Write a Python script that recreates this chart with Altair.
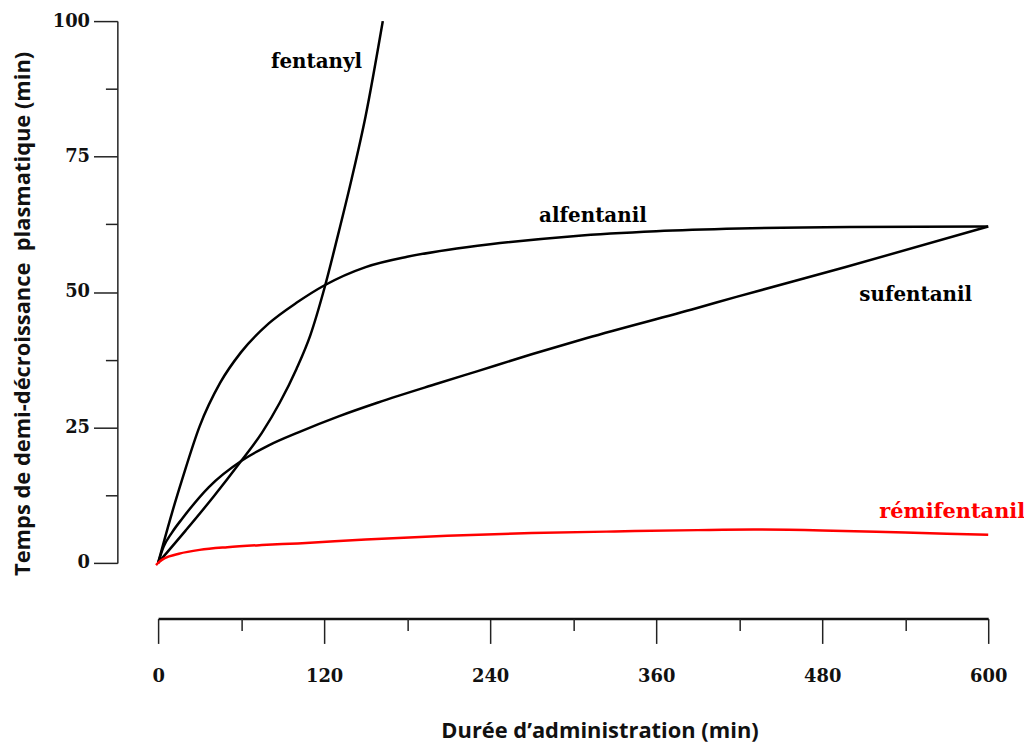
import altair as alt
import pandas as pd

# ---- data ----
fentanyl_x = [0, 20, 40, 60, 75, 88, 100, 110, 120, 130, 140, 150, 162.4]
fentanyl_y = [0, 6.0, 12.2, 18.8, 24.0, 29.6, 35.8, 42.0, 50.5, 60.5, 71.0, 82.5, 100]

alfentanil_x = [0, 10, 17.5, 30, 45, 60, 80, 100, 120, 150, 180, 210, 240, 300, 360, 420, 500, 600]
alfentanil_y = [0, 9.2, 15.5, 25.2, 33.3, 38.9, 44.2, 48.0, 51.2, 54.6, 56.5, 57.8, 58.8, 60.3, 61.2, 61.7, 62.0, 62.1]

sufentanil_x = [0, 4, 10, 17.5, 36.7, 60.6, 80, 101.4, 130, 159, 202, 231, 270, 310, 389, 418, 497, 600]
sufentanil_y = [0, 3.0, 5.6, 8.2, 14.0, 18.9, 21.7, 24.1, 27.0, 29.6, 33.1, 35.4, 38.5, 41.5, 47.0, 49.1, 54.6, 62.1]

remi_x = [-1.5, 0, 3, 8, 15, 30, 50, 75, 101, 150, 209, 270, 330, 390, 430, 480, 540, 600]
remi_y = [-0.4, 0, 0.6, 1.2, 1.7, 2.4, 2.9, 3.3, 3.6, 4.3, 5.0, 5.5, 5.8, 6.05, 6.15, 6.0, 5.6, 5.2]

drugs = ["fentanyl", "alfentanil", "sufentanil", "rémifentanil"]
drug_colors = ["#000000", "#000000", "#000000", "#ff0000"]

label_text = ["fentanyl", "alfentanil", "sufentanil", "rémifentanil"]
label_x = [114.5, 314.3, 547.6, 574]
label_y = [92.5, 64.1, 49.4, 9.3]
label_sizes = [20, 20, 20, 21]

y_major = [0, 25, 50, 75, 100]
y_minor = [12.5, 37.5, 62.5, 87.5]
x_major = [0, 120, 240, 360, 480, 600]
x_minor = [60, 180, 300, 420, 540]

x_title = "Durée d’administration (min)"
y_title = "Temps de demi-décroissance\u00a0 plasmatique (min)"

# ---- tables ----
rows = []
for name, xs, ys in [("fentanyl", fentanyl_x, fentanyl_y),
                     ("alfentanil", alfentanil_x, alfentanil_y),
                     ("sufentanil", sufentanil_x, sufentanil_y),
                     ("rémifentanil", remi_x, remi_y)]:
    for i, (a, b) in enumerate(zip(xs, ys)):
        rows.append({"drug": name, "t": a, "v": b, "i": i})
df = pd.DataFrame(rows)
labels = pd.DataFrame({"label": label_text, "t": label_x, "v": label_y,
                       "drug": drugs, "size": label_sizes})

serif = "DejaVu Serif"
sans = "Open Sans"

xscale = alt.Scale(domain=[0, 600], nice=False, zero=False)
yscale = alt.Scale(domain=[0, 100], nice=False, zero=False)
cscale = alt.Scale(domain=drugs, range=drug_colors)

lines = alt.Chart(df).mark_line(strokeWidth=2.5, clip=False, interpolate="monotone").encode(
    x=alt.X("t:Q", scale=xscale, axis=alt.Axis(
        values=x_major, orient="bottom", offset=56, tickSize=25, tickWidth=1.5,
        tickColor="#222", domainColor="#111", domainWidth=2.5, grid=False,
        labelFont=serif, labelFontWeight="bold", labelFontSize=18, labelColor="#111",
        labelPadding=24, labelFlush=False,
        title=x_title, titleFont=sans, titleFontWeight="bold", titleFontSize=22,
        titleColor="#111", titlePadding=36, titleX=444)),
    y=alt.Y("v:Q", scale=yscale, axis=alt.Axis(
        values=y_major, orient="left", offset=41, tickSize=24, tickWidth=1.5,
        tickColor="#222", domainColor="#222", domainWidth=1.5, grid=False,
        labelFont=serif, labelFontWeight="bold", labelFontSize=18, labelColor="#111",
        labelPadding=4, labelFlush=False,
        title=y_title, titleFont=sans, titleFontWeight="bold", titleFontSize=22,
        titleColor="#111", titlePadding=18, titleY=294)),
    color=alt.Color("drug:N", scale=cscale, legend=None),
    detail="drug:N",
    order="i:Q",
)

minor = alt.Chart(df).mark_point(opacity=0).encode(
    x=alt.X("t:Q", scale=xscale, axis=alt.Axis(
        values=x_minor, orient="bottom", offset=56, tickSize=12, tickWidth=1.5,
        tickColor="#222", domain=False, labels=False, grid=False, title=None)),
    y=alt.Y("v:Q", scale=yscale, axis=alt.Axis(
        values=y_minor, orient="left", offset=41, tickSize=12, tickWidth=1.5,
        tickColor="#222", domain=False, labels=False, grid=False, title=None)),
)

texts = alt.Chart(labels).mark_text(
    font=serif, fontWeight="bold", align="center", baseline="middle"
).encode(
    x=alt.X("t:Q", scale=xscale, axis=None),
    y=alt.Y("v:Q", scale=yscale, axis=None),
    text="label:N",
    size=alt.Size("size:Q", scale=None, legend=None),
    color=alt.Color("drug:N", scale=cscale, legend=None),
)

chart = alt.layer(lines, minor, texts).resolve_axis(
    x="independent", y="independent"
).properties(
    width=835, height=545,
    background="white",
    autosize=alt.AutoSizeParams(type="none"),
    padding={"left": 151, "top": 11, "right": 36, "bottom": 180},
).configure_view(strokeWidth=0)

chart.save("out.html", embed_options={"renderer": "svg", "actions": False})
